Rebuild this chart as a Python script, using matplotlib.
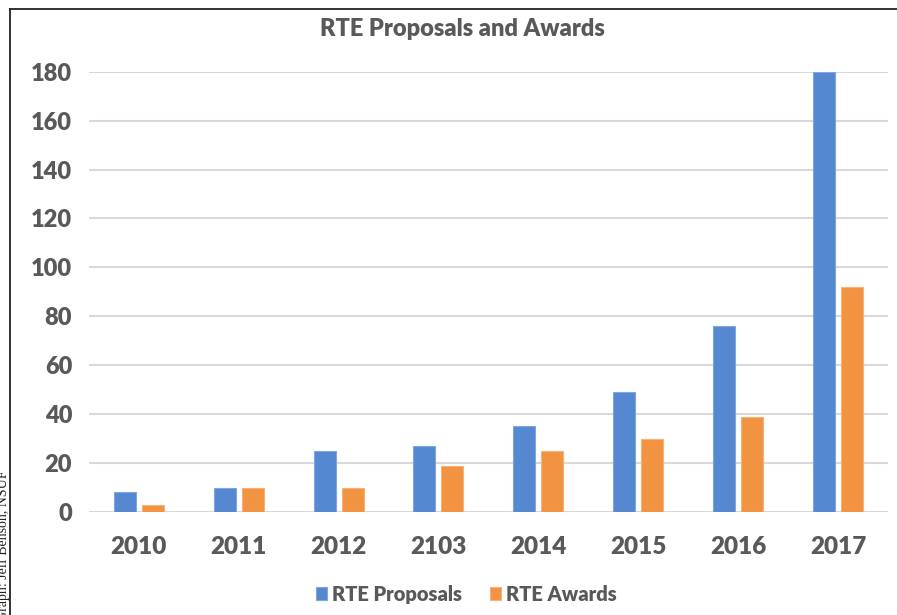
import matplotlib
import numpy as np

matplotlib.use("Agg")
import matplotlib.pyplot as plt
from matplotlib.lines import Line2D

years = ["2010", "2011", "2012", "2103", "2014", "2015", "2016", "2017"]
proposals = [8, 10, 25, 27, 35, 49, 76, 180]
awards = [3, 10, 10, 19, 25, 30, 39, 92]

blue = "#5588D0"
orange = "#F29341"
grey = "#595959"
weight = "heavy"

plt.rcParams["font.family"] = ["Lato", "DejaVu Sans"]

fig = plt.figure(figsize=(8.97, 6.15), dpi=100)
ax = fig.add_axes([0.099, 0.1675, 0.891, 0.716])

x = np.arange(len(years))
w = 0.22
ax.bar(x - 0.14, proposals, w, color=blue, edgecolor="#7FA6DE", linewidth=0.8,
       label="RTE Proposals", zorder=3)
ax.bar(x + 0.14, awards, w, color=orange, edgecolor="#F6B27A", linewidth=0.8,
       label="RTE Awards", zorder=3)

ax.set_ylim(0, 180)
ax.set_xlim(-0.5, len(years) - 0.5)
ax.set_yticks(range(0, 181, 20))
ax.set_xticks(x)
ax.set_xticklabels(years)
ax.grid(axis="y", color="#D9D9D9", linewidth=1.5, zorder=0)
ax.tick_params(length=0, labelsize=17, colors=grey, pad=12)
ax.tick_params(axis="x", labelsize=17.5, pad=17)
for lbl in ax.get_xticklabels() + ax.get_yticklabels():
    lbl.set_fontweight(weight)
for s in ax.spines.values():
    s.set_visible(False)

fig.text(0.515, 0.953, "RTE Proposals and Awards", ha="center", va="center",
         fontsize=17, fontweight=weight, color=grey)

leg = fig.legend(loc="center", bbox_to_anchor=(0.52, 0.034), ncol=2, frameon=False,
                 fontsize=14.5, handlelength=0.55, handleheight=0.55, handletextpad=0.25,
                 columnspacing=1.4)
for t in leg.get_texts():
    t.set_color(grey)
    t.set_fontweight(weight)

# frame of the original (cropped) chart area
fig.add_artist(Line2D([10 / 897, 10 / 897], [0, 1 - 9 / 615], color="#222222", lw=1.3,
                      transform=fig.transFigure))
fig.add_artist(Line2D([10 / 897, 1], [1 - 9 / 615, 1 - 9 / 615], color="#222222", lw=1.3,
                      transform=fig.transFigure))

fig.text(0.004, -0.01, "Graph: Jeff Benson, NSUF", rotation=90, ha="center", va="bottom",
         fontsize=10, family=["Liberation Serif", "DejaVu Serif"], color="#222222")

fig.savefig("out.png", dpi=100)
